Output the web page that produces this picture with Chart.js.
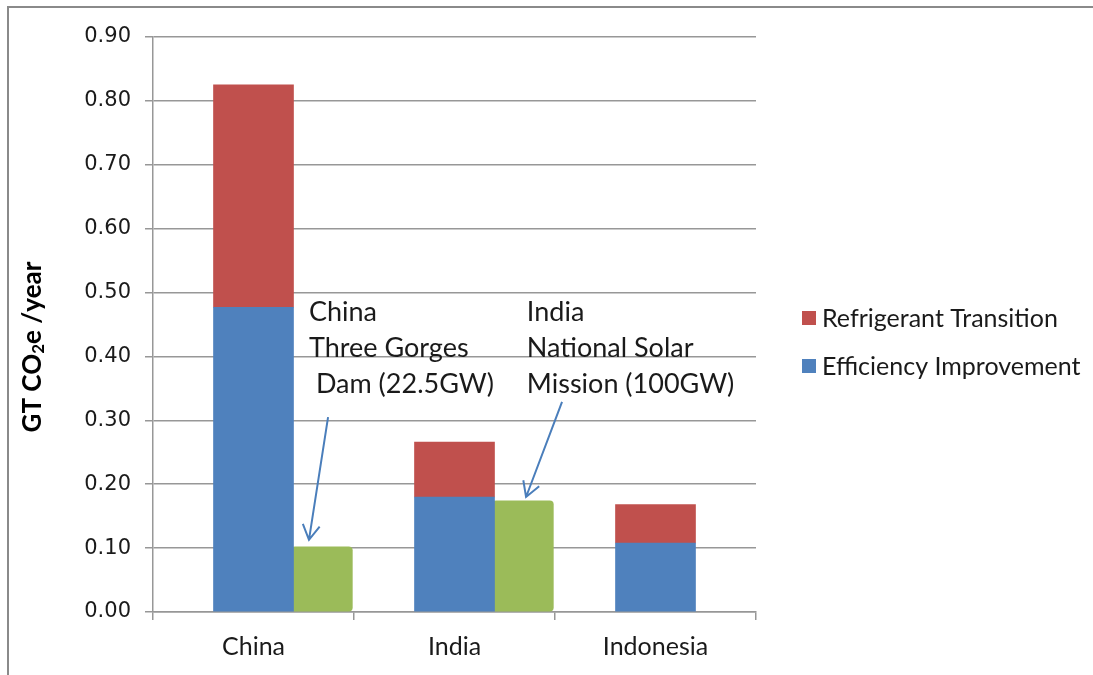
<!DOCTYPE html>
<html>
<head>
<meta charset="utf-8">
<script src="https://cdn.jsdelivr.net/npm/chart.js@4.4.1/dist/chart.umd.min.js"></script>
<style>
  html, body { margin: 0; padding: 0; background: #fff; overflow: hidden; }
  #frame { position: absolute; left: 7px; top: 6px; width: 1200px; height: 800px;
           border-left: 2px solid #8a8a8a; border-top: 2px solid #8a8a8a; }
  #wrap { position: absolute; left: 0; top: 0; width: 1093px; height: 675px; }
</style>
</head>
<body>
<div id="frame"></div>
<div id="wrap"><canvas id="chart"></canvas></div>
<script>
// Dati (GT CO2e / anno)
const countries = ['China', 'India', 'Indonesia'];
const efficiency = [0.477, 0.180, 0.108];
const refrigerant = [0.348, 0.086, 0.060];
// progetti di confronto (box verdi): diga Tre Gole, missione solare India
const comparison = [0.102, 0.174, null];
const yTickMin = 0;
const yTickMax = 0.9;
const yTickStep = 0.1;

const BLUE = '#4F81BD';
const RED = '#C0504D';
const GREEN = '#9BBB59';
const GRID = '#979797';
const TEXT = '#1a1a1a';
const SANS = 'Lato, "Open Sans", sans-serif';

// i box verdi stanno a destra della barra impilata
const greenShift = 0.34;

// tutte le barre su un asse lineare nascosto (xb), l'asse a categorie x serve solo per etichette e tacche
const toPoints = (arr, shift) =>
  arr.map((v, i) => v == null ? null : { x: i + shift, y: v }).filter(p => p);

// annotazioni (in unita' degli assi xb / y)
const notes = [
  { lines: ['China', 'Three Gorges', ' Dam (22.5GW)'], textX: 0.276, textY: 0.49,
    from: [0.371, 0.305], to: [0.276, 0.113] },
  { lines: ['India', 'National Solar', 'Mission (100GW)'], textX: 1.36, textY: 0.49,
    from: [1.535, 0.329], to: [1.356, 0.180] }
];

function drawArrow(ctx, x1, y1, x2, y2) {
  const ang = Math.atan2(y2 - y1, x2 - x1);
  const len = 17, spread = Math.PI / 6;
  ctx.beginPath();
  ctx.moveTo(x1, y1);
  ctx.lineTo(x2, y2);
  ctx.moveTo(x2 - len * Math.cos(ang - spread), y2 - len * Math.sin(ang - spread));
  ctx.lineTo(x2, y2);
  ctx.lineTo(x2 - len * Math.cos(ang + spread), y2 - len * Math.sin(ang + spread));
  ctx.stroke();
}

const overlay = {
  id: 'overlay',
  afterDraw(chart) {
    const ctx = chart.ctx;
    const xs = chart.scales.xb;
    const ys = chart.scales.y;
    const area = chart.chartArea;
    ctx.save();

    // titolo asse y con pedice
    ctx.translate(33, 347);
    ctx.rotate(-Math.PI / 2);
    ctx.fillStyle = '#000';
    ctx.textBaseline = 'middle';
    const big = 'bold 26px ' + SANS, small = 'bold 17px ' + SANS;
    const parts = [['GT CO', big, 0], ['2', small, 6], ['e /year', big, 0]];
    let total = 0;
    parts.forEach(p => { ctx.font = p[1]; total += ctx.measureText(p[0]).width; });
    let px = -total / 2;
    parts.forEach(p => {
      ctx.font = p[1];
      ctx.fillText(p[0], px, p[2]);
      px += ctx.measureText(p[0]).width;
    });
    ctx.setTransform(1, 0, 0, 1, 0, 0);

    // annotazioni e frecce
    ctx.font = '27px ' + SANS;
    ctx.fillStyle = TEXT;
    ctx.textBaseline = 'top';
    ctx.textAlign = 'left';
    notes.forEach(n => {
      const tx = xs.getPixelForValue(n.textX);
      const ty = ys.getPixelForValue(n.textY);
      n.lines.forEach((t, k) => ctx.fillText(t, tx, ty + k * 36));
      ctx.strokeStyle = '#4A7EBB';
      ctx.lineWidth = 2;
      drawArrow(ctx,
        xs.getPixelForValue(n.from[0]), ys.getPixelForValue(n.from[1]),
        xs.getPixelForValue(n.to[0]), ys.getPixelForValue(n.to[1]));
    });

    // legenda (ordine inverso, come nell'originale)
    const items = chart.data.datasets.filter(d => d.inLegend).reverse();
    ctx.font = '25px ' + SANS;
    ctx.textBaseline = 'middle';
    items.forEach((d, k) => {
      const cy = area.top + 281 + k * 48;
      const bx = area.right + 46;
      ctx.fillStyle = d.backgroundColor;
      ctx.fillRect(bx, cy - 7, 14, 14);
      ctx.fillStyle = TEXT;
      ctx.fillText(d.label, bx + 20, cy + 1);
    });
    ctx.restore();
  }
};

const ctx = document.getElementById('chart').getContext('2d');
new Chart(ctx, {
  type: 'bar',
  data: {
    labels: countries,
    datasets: [
      { label: 'Efficiency Improvement', data: toPoints(efficiency, 0), backgroundColor: BLUE,
        stack: 'main', xAxisID: 'xb', inLegend: true, barThickness: 80 },
      { label: 'Refrigerant Transition', data: toPoints(refrigerant, 0), backgroundColor: RED,
        stack: 'main', xAxisID: 'xb', inLegend: true, barThickness: 80 },
      { label: 'Comparison', data: toPoints(comparison, greenShift), backgroundColor: GREEN,
        xAxisID: 'xb', grouped: false, barThickness: 61, borderRadius: 4, borderSkipped: false }
    ]
  },
  options: {
    responsive: true,
    maintainAspectRatio: false,
    animation: false,
    layout: { padding: { left: 0, right: 337, top: 37, bottom: 0 } },
    plugins: { legend: { display: false }, tooltip: { enabled: false } },
    scales: {
      x: {
        type: 'category',
        grid: { offset: true, drawOnChartArea: false, color: GRID, lineWidth: 1.5, tickLength: 8 },
        border: { color: GRID, width: 1.5 },
        ticks: { color: TEXT, font: { family: SANS, size: 25 }, padding: 12 },
        afterFit: s => { s.height = 63; }
      },
      xb: {
        type: 'linear', display: false, offset: false, stacked: true,
        min: -0.5, max: 2.5
      },
      y: {
        stacked: true,
        min: yTickMin, max: yTickMax,
        grid: { color: GRID, lineWidth: 1.5, tickLength: 8 },
        border: { color: GRID, width: 1.5 },
        ticks: { stepSize: yTickStep, color: TEXT, padding: 14,
          font: { family: '"DejaVu Sans", sans-serif', size: 21 },
          callback: v => v.toFixed(2) },
        afterFit: s => { s.width = 153; }
      }
    }
  },
  plugins: [overlay]
});
</script>
</body>
</html>
